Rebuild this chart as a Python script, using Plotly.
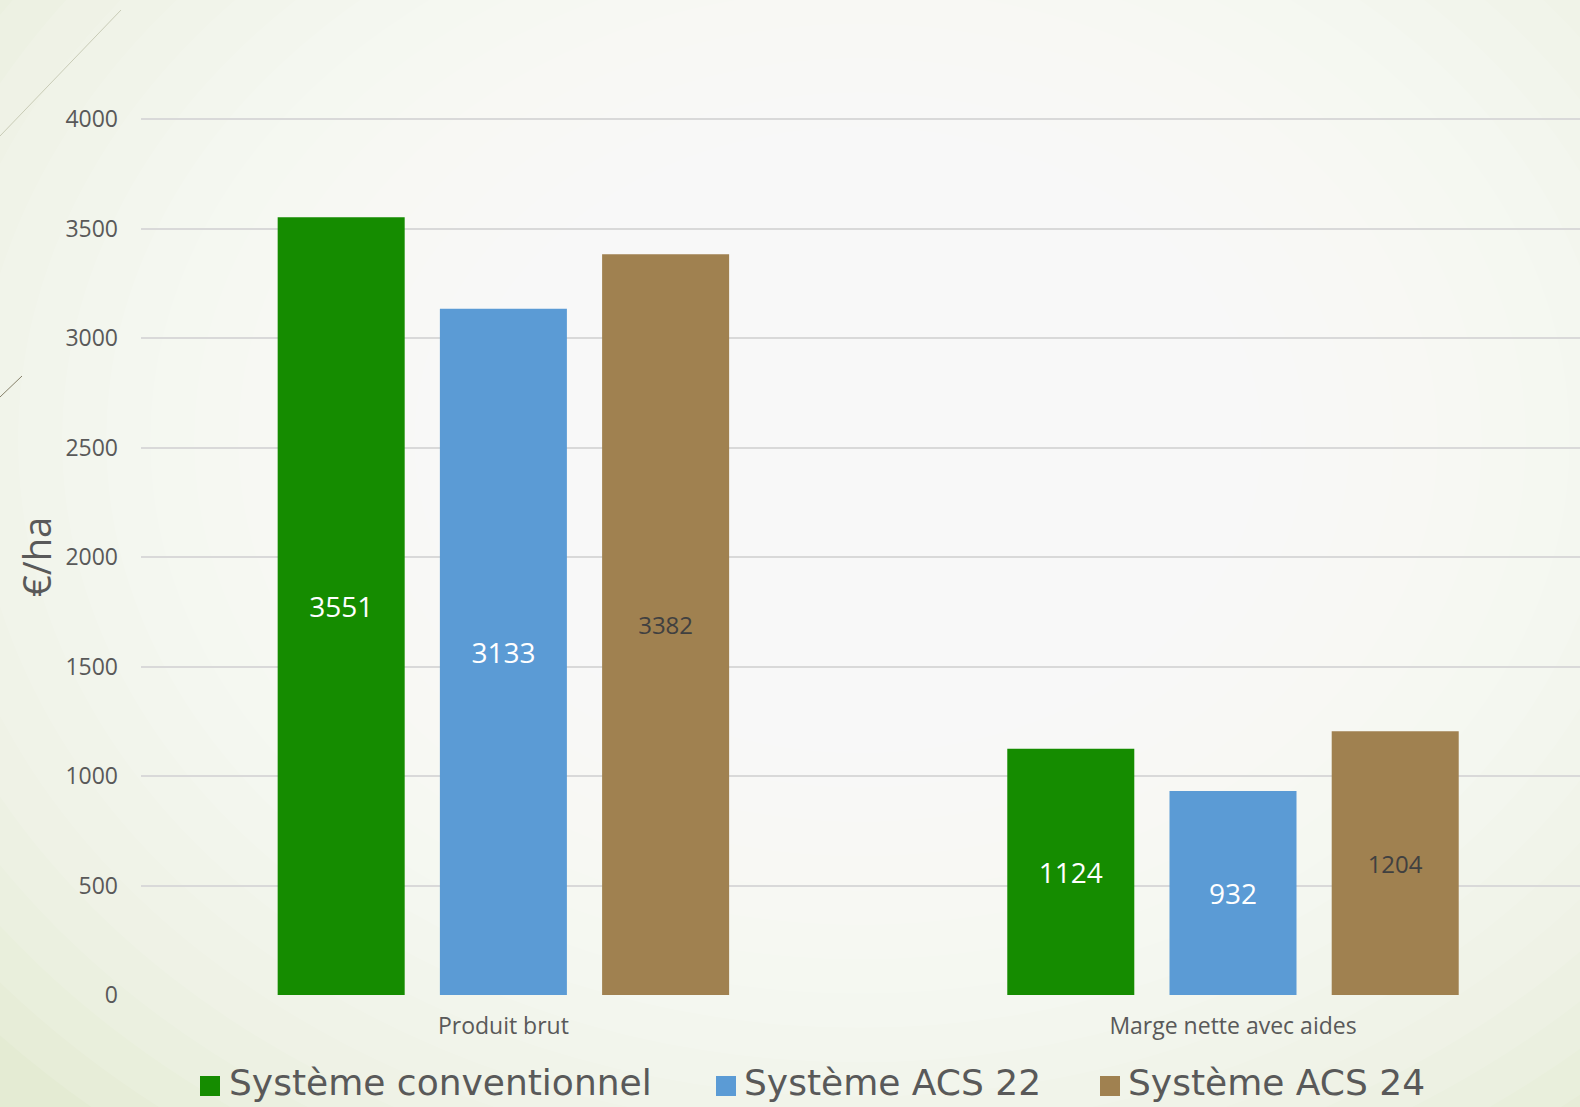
import plotly.graph_objects as go

categories = ["Produit brut", "Marge nette avec aides"]
series_names = ["Système conventionnel", "Système ACS 22", "Système ACS 24"]
conventionnel = [3551, 1124]
acs22 = [3133, 932]
acs24 = [3382, 1204]
y_ticks = [0, 500, 1000, 1500, 2000, 2500, 3000, 3500, 4000]
y_title = "€/ha"

colors = ["#158c00", "#5b9bd5", "#a08150"]
label_colors = ["#ffffff", "#ffffff", "#404040"]
label_sizes = [28, 28, 24]
FONT = "'Open Sans', Lato, sans-serif"
LEG_FONT = "'DejaVu Sans', 'Open Sans', sans-serif"

W, H = 1580, 1107
L, T, B = 141, 115, 112
PW, PH = W - L, H - T - B
YMAX = 4000 * PH / 876.0


def px(x):
    return (x - L) / PW


def py(y):
    return (H - B - y) / PH


fig = go.Figure()
for name, vals, col, lc, ls in zip(series_names, [conventionnel, acs22, acs24], colors, label_colors, label_sizes):
    fig.add_trace(go.Bar(
        x=categories, y=vals, name=name,
        marker=dict(color=col, line=dict(width=0)),
        text=[str(v) for v in vals], textposition="inside",
        insidetextanchor="middle", textangle=0, constraintext="none",
        textfont=dict(color=lc, size=ls, family=FONT),
        showlegend=False,
    ))

shapes = []
# radial background glow
cx, cy = 860, 440
n = 24
for i in range(n):
    rx = 1150 - i * 44
    ry = rx * 0.78
    shapes.append(dict(type="circle", xref="paper", yref="paper",
                       x0=px(cx - rx), x1=px(cx + rx), y0=py(cy + ry), y1=py(cy - ry),
                       fillcolor="rgba(255,255,255,0.115)", line=dict(width=0), layer="below"))
# decorative slide lines
shapes.append(dict(type="line", xref="paper", yref="paper", x0=px(0), y0=py(136), x1=px(121), y1=py(10),
                   line=dict(color="#c8cbb6", width=1), layer="below"))
shapes.append(dict(type="line", xref="paper", yref="paper", x0=px(0), y0=py(397), x1=px(22), y1=py(376),
                   line=dict(color="#857f68", width=1), layer="below"))

# custom legend
legend_sq = [200, 716, 1100]
legend_tx = [227, 742, 1126]
ly = 1082
annotations = []
for name, col, sx, tx in zip(series_names, colors, legend_sq, legend_tx):
    shapes.append(dict(type="rect", xref="paper", yref="paper",
                       x0=px(sx), x1=px(sx + 20), y0=py(ly + 14), y1=py(ly - 6),
                       fillcolor=col, line=dict(width=0)))
    annotations.append(dict(xref="paper", yref="paper", x=px(tx), y=py(ly), text=name,
                            showarrow=False, xanchor="left", yanchor="middle",
                            font=dict(size=36, color="#595959", family=LEG_FONT)))

annotations.append(dict(xref="paper", yref="paper", x=px(36), y=py(557), text=y_title,
                        textangle=-90, showarrow=False, xanchor="center", yanchor="middle",
                        font=dict(size=38, color="#595959", family=FONT)))

fig.update_layout(
    width=W, height=H,
    margin=dict(l=L, r=0, t=T, b=B),
    paper_bgcolor="#e4ebd3",
    plot_bgcolor="rgba(0,0,0,0)",
    barmode="group", bargap=0.333, bargroupgap=0.217,
    font=dict(family=FONT, color="#595959"),
    shapes=shapes, annotations=annotations,
    xaxis=dict(range=[-0.4967, 1.4756], showgrid=False, zeroline=False, showline=False,
               ticks="", tickfont=dict(size=23, color="#595959"), ticklabelstandoff=15),
    yaxis=dict(range=[0, YMAX], tickvals=y_ticks, showgrid=True, gridcolor="#d9d9d9",
               gridwidth=1.5, zeroline=False, showline=False, ticks="",
               tickfont=dict(size=23, color="#595959"), ticklabelstandoff=22),
)

fig.write_html("out.html")
